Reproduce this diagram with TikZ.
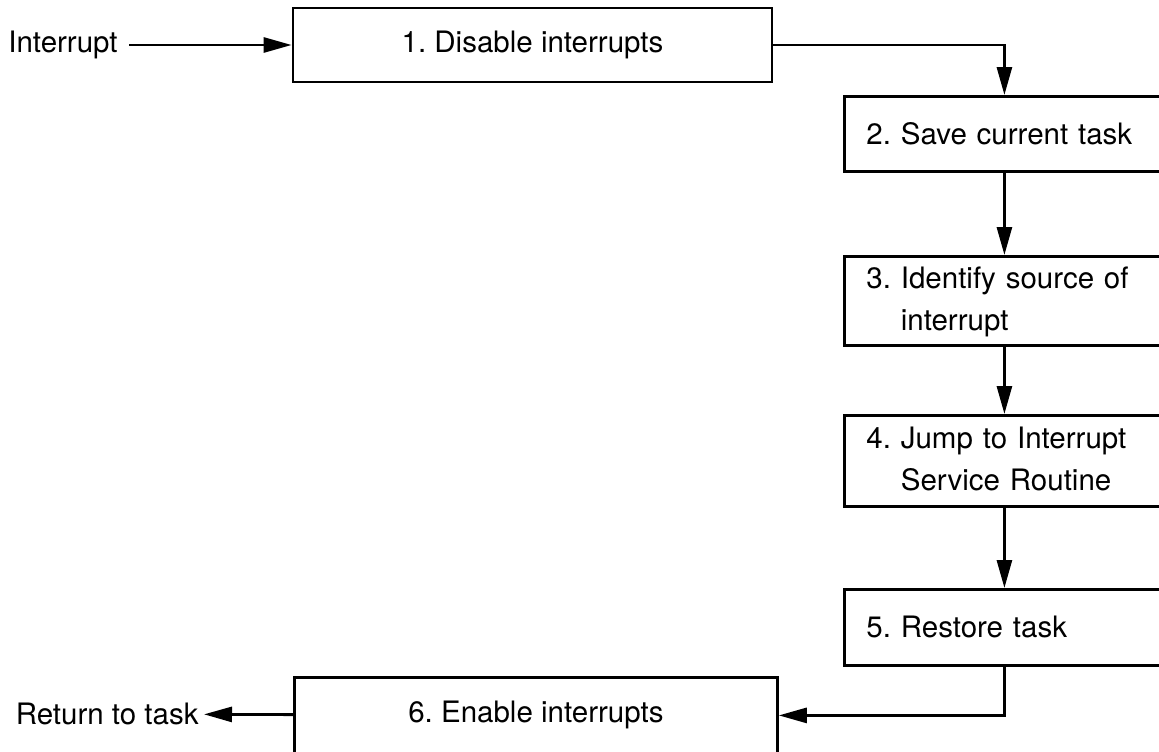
\documentclass[tikz,border=0pt]{standalone}
\usepackage{fontspec}
\setmainfont{TeX Gyre Heros}
\usetikzlibrary{arrows.meta}
\begin{document}
\frenchspacing
\begin{tikzpicture}[x=0.5pt,y=-0.5pt,
    font=\fontsize{14.75}{21}\selectfont,
    line width=1.4pt,
    stepbox/.style={draw, rectangle, inner sep=0pt},
    sidebox/.style={stepbox, anchor=north west, minimum width=160pt,
        text width=138pt, inner xsep=11pt, align=left},
    flow/.style={-{Triangle[length=14pt,width=7.5pt]}}]
        \clip (0,0) rectangle (1159,751);

        % 中断进入
        \node[inner sep=5pt] (irq) at (63,45) {Interrupt};
        \node[stepbox, minimum width=239.5pt, minimum height=37pt] (disable) at (532.5,45) {1. Disable interrupts};

        % 右侧步骤
        \node[sidebox, minimum height=37.5pt] (save) at (843,95) {2. Save current task};
        \node[sidebox, minimum height=44.5pt] (identify) at (843,255)
            {\begin{tabular}{@{}l@{ }l@{}}3.&Identify source of\\&interrupt\end{tabular}};
        \node[sidebox, minimum height=45.5pt] (jump) at (843,414)
            {\begin{tabular}{@{}l@{ }l@{}}4.&Jump to Interrupt\\&Service Routine\end{tabular}};
        \node[sidebox, minimum height=38pt] (restore) at (843,588) {5. Restore task};

        % 返回
        \node[stepbox, anchor=north west, minimum width=241.5pt, minimum height=38pt] (enable) at (293,676) {6. Enable interrupts};
        \node[anchor=east, inner sep=2pt] (ret) at (204,714) {Return to task};

        % 连线
        \draw[flow] (irq) -- (disable);
        \draw[flow] (disable.east) -| (save.north);
        \draw[flow] (save) -- (identify);
        \draw[flow] (identify) -- (jump);
        \draw[flow] (jump) -- (restore);
        \draw[flow] (restore.south) |- (enable.east);
        \draw[flow] (enable) -- (ret);
\end{tikzpicture}
\end{document}
